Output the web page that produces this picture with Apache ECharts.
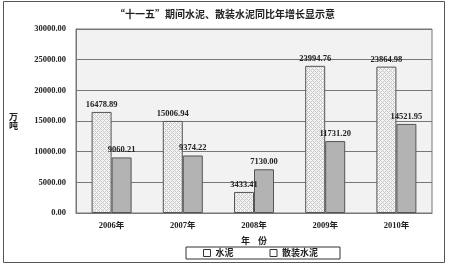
<!DOCTYPE html>
<html><head><meta charset="utf-8">
<script src="https://cdn.jsdelivr.net/npm/echarts@6/dist/echarts.min.js"></script>
<style>html,body{margin:0;padding:0;background:#fff}#c{width:450px;height:268px}</style>
</head><body><div id="c"></div>
<script>
var titleText = '“十一五”期间水泥、散装水泥同比年增长显示意';
var categories = ['2006年', '2007年', '2008年', '2009年', '2010年'];
var cement = [16478.89, 15006.94, 3433.41, 23994.76, 23864.98];
var bulkCement = [9060.21, 9374.22, 7130.00, 11731.20, 14521.95];
var seriesNames = ['水泥', '散装水泥'];

var pc = document.createElement('canvas');
pc.width = 4; pc.height = 4;
var g = pc.getContext('2d');
g.fillStyle = '#f4f4f4'; g.fillRect(0,0,4,4);
g.fillStyle = '#c8c8c8';
g.fillRect(0,0,1,1); g.fillRect(2,2,1,1); g.fillRect(1,1,1,1); g.fillRect(3,3,1,1);
g.fillRect(3,1,1,1); g.fillRect(1,3,1,1);

var font = '"Liberation Serif", "Noto Sans CJK SC", serif';
var cjk = '"Noto Sans CJK SC", sans-serif';
var chart = echarts.init(document.getElementById('c'));
var lbl = {show: true, position: 'top', fontSize: 8.5, fontWeight: 'bold', color: '#222', fontFamily: font, distance: 3,
  formatter: function(p){ return p.value.toFixed(2); }};
chart.setOption({
  animation: false,
  backgroundColor: '#fff',
  title: {text: titleText, left: 'center', top: 4, textStyle: {fontSize: 10, fontWeight: 'bold', color: '#222', fontFamily: cjk}},
  grid: {left: 76, right: 18, top: 29, bottom: 55, show: true, backgroundColor: '#f2f2f2', borderColor: '#777', borderWidth: 1},
  legend: {data: seriesNames, left: 186, top: 247, itemGap: 36, icon: 'rect', itemWidth: 7, itemHeight: 7,
    padding: [1, 22, 1, 17], borderColor: '#333', borderWidth: 1, borderRadius: 0, backgroundColor: '#fff',
    itemStyle: {color: '#fff', borderColor: '#333', borderWidth: 1},
    textStyle: {fontSize: 9, fontWeight: 'bold', color: '#222', fontFamily: cjk, lineHeight: 10}},
  xAxis: {type: 'category', data: categories, name: '年    份', nameLocation: 'middle', nameGap: 23,
    nameTextStyle: {fontSize: 9, fontWeight: 'bold', color: '#222', fontFamily: cjk},
    axisLine: {lineStyle: {color: '#777'}}, axisTick: {inside: true, length: 3, lineStyle: {color: '#555'}},
    axisLabel: {fontSize: 8.5, fontWeight: 'bold', color: '#222', margin: 9, fontFamily: font}},
  yAxis: {type: 'value', min: 0, max: 30000, interval: 5000, name: '万\n吨', nameLocation: 'middle', nameRotate: 0, nameGap: 58,
    nameTextStyle: {fontSize: 9, fontWeight: 'bold', color: '#222', fontFamily: cjk},
    axisLine: {show: true, lineStyle: {color: '#777'}}, axisTick: {show: false},
    axisLabel: {fontSize: 8.5, fontWeight: 'bold', color: '#222', margin: 10, fontFamily: font, formatter: function(v){return v.toFixed(2);}},
    splitLine: {lineStyle: {color: '#777', width: 1}}},
  series: [
    {name: seriesNames[0], type: 'bar', data: cement, barWidth: 20, barGap: '0%',
      itemStyle: {color: {image: pc, repeat: 'repeat'}, borderColor: '#555', borderWidth: 1}, label: lbl},
    {name: seriesNames[1], type: 'bar', data: bulkCement, barWidth: 20,
      itemStyle: {color: '#b3b3b3', borderColor: '#555', borderWidth: 1}, label: lbl}
  ],
  graphic: [{type: 'rect', shape: {x: 3.5, y: 1.5, width: 441, height: 261}, style: {fill: 'none', stroke: '#555', lineWidth: 1}, silent: true}]
});
</script></body></html>
